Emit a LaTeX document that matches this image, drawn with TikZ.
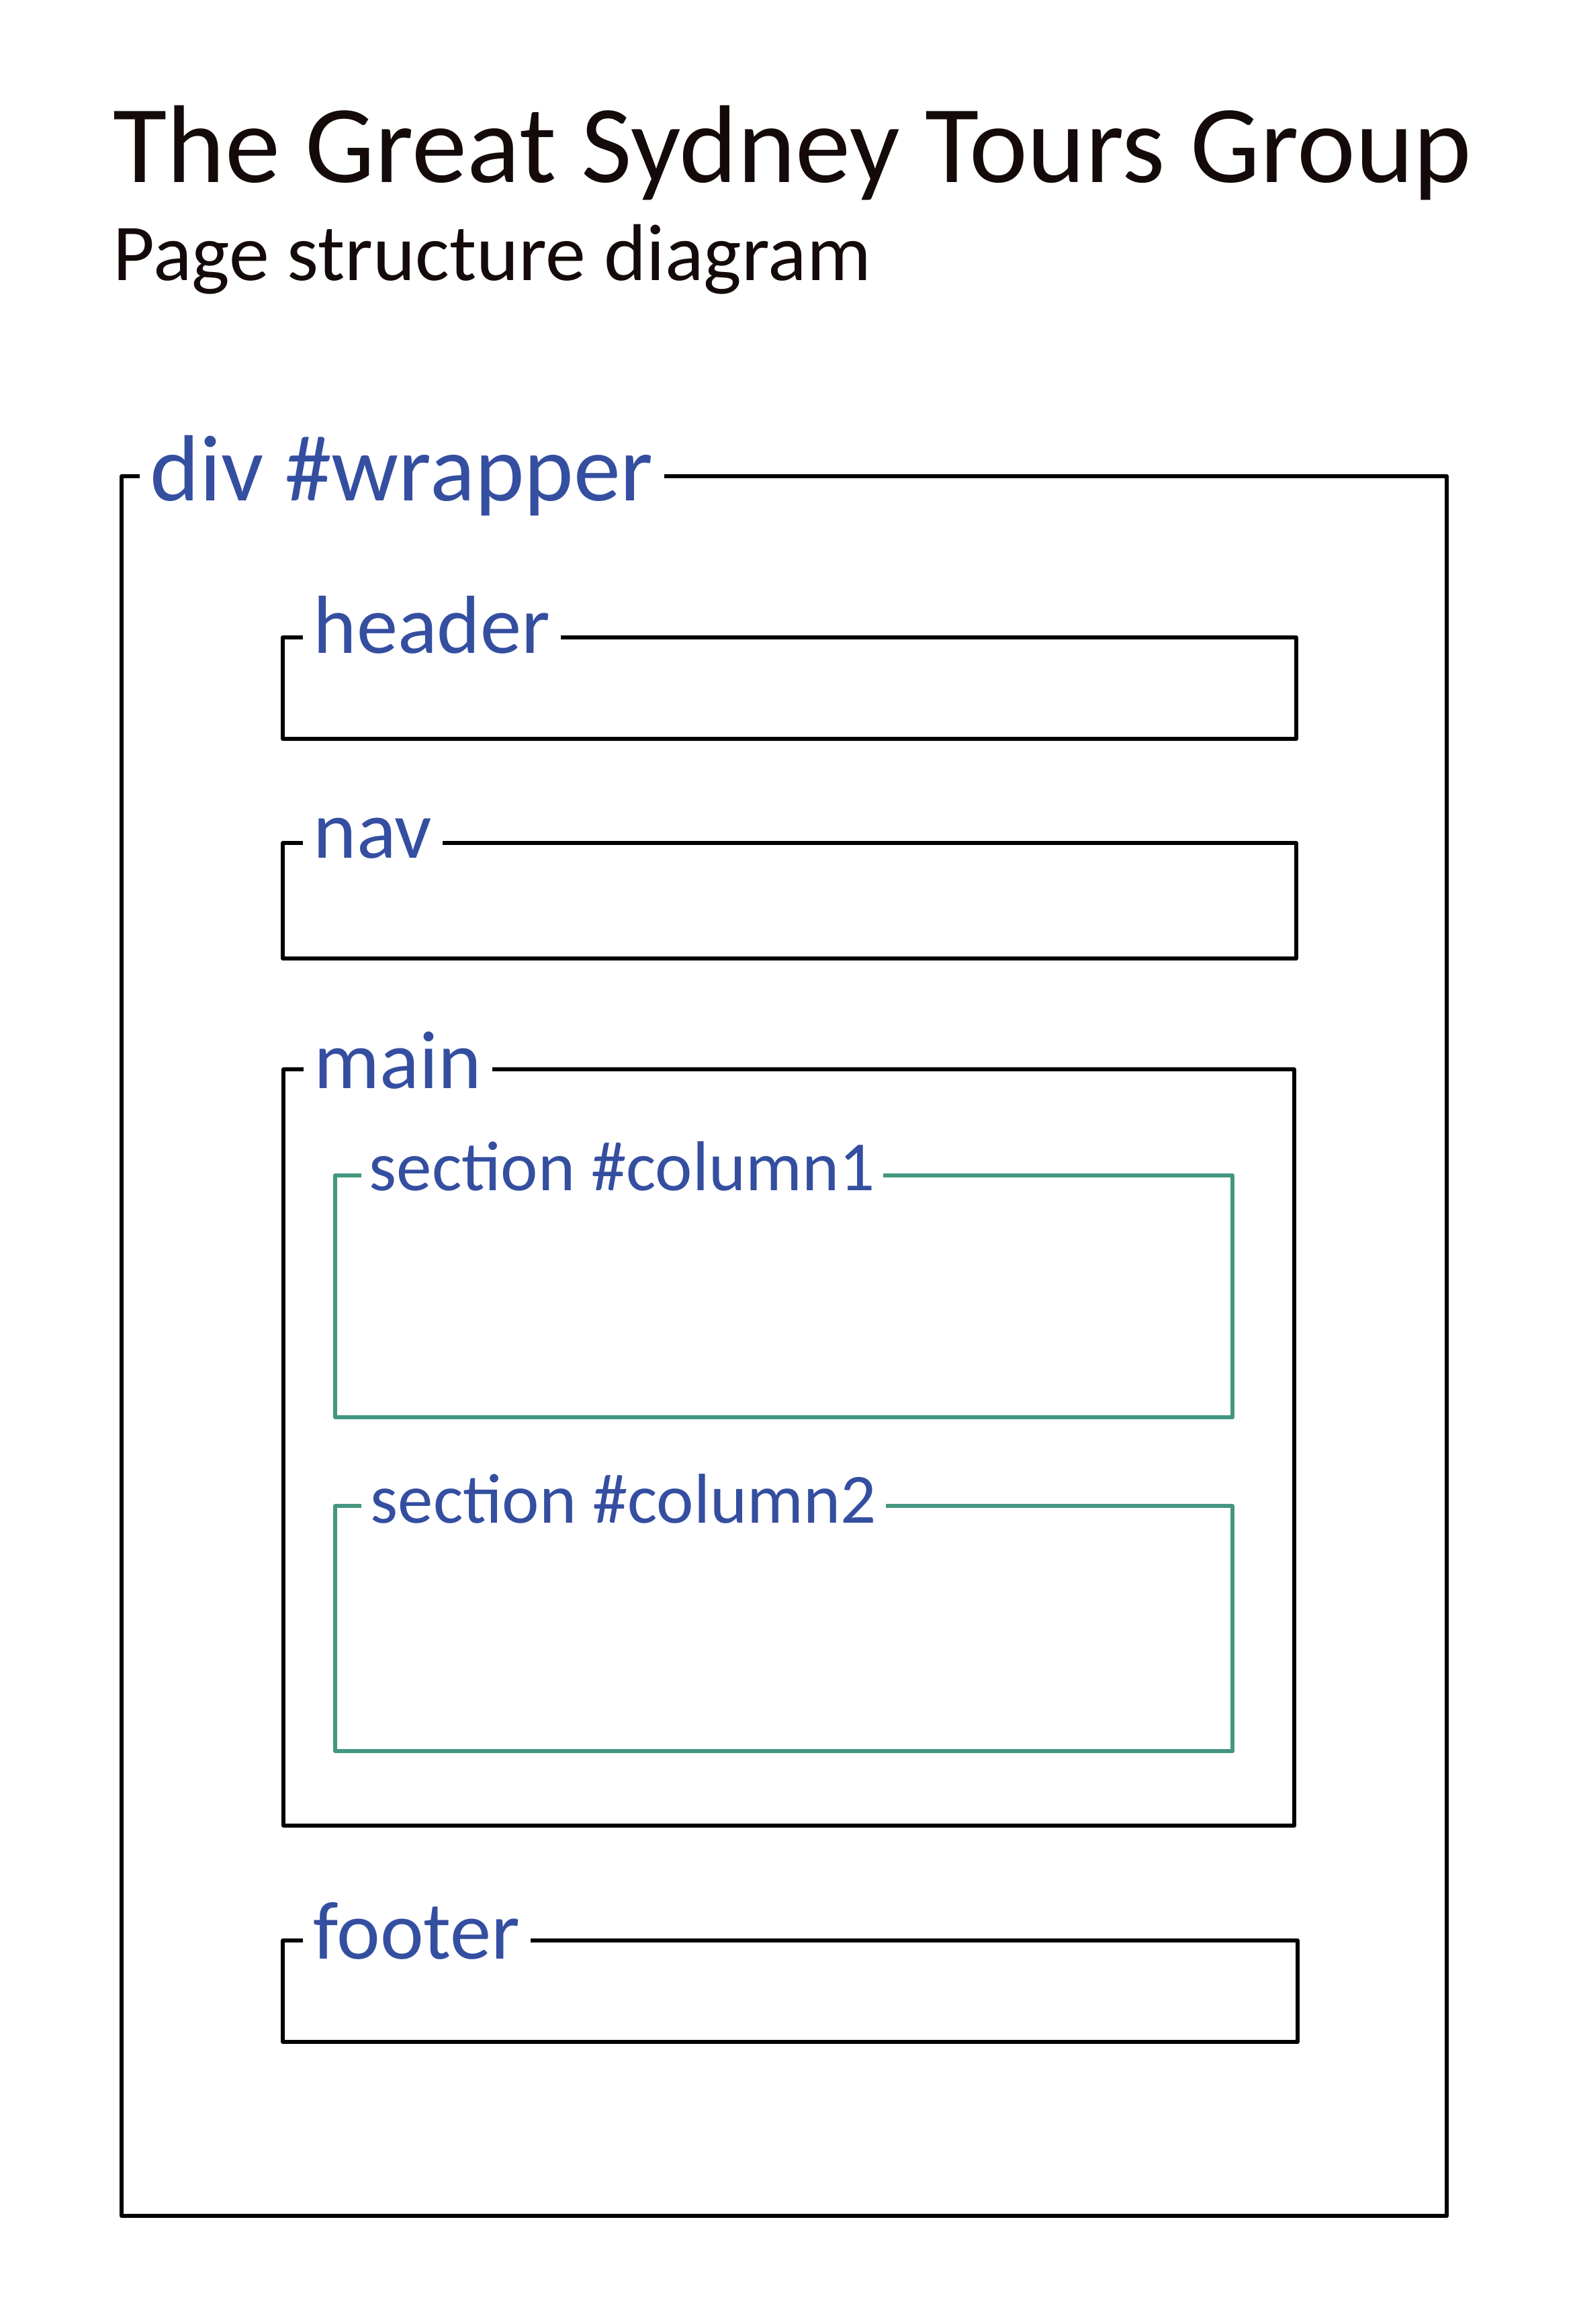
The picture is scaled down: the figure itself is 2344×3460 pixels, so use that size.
\documentclass[tikz,border=0pt]{standalone}
\usepackage{fontspec}
\setmainfont{Carlito}
\usepackage{tikz}
\definecolor{tagblue}{RGB}{52,78,160}
\definecolor{secgreen}{RGB}{68,150,128}
\definecolor{inkblack}{RGB}{20,10,10}

\begin{document}
\begin{tikzpicture}[x=0.3pt, y=-0.3pt,
  box/.style={draw=black, line width=1.6pt, line join=round},
  secbox/.style={draw=secgreen, line width=1.75pt, line join=round},
  tag/.style={anchor=base west, fill=white, text=tagblue, inner xsep=4.8pt, inner ysep=0pt},
  every node/.append style={font=\fontsize{36.8pt}{40pt}\selectfont}]
  \tikzstyle{heading} = [anchor=base west, inner sep=0pt, text=inkblack]
  \useasboundingbox (0,0) rectangle (2344,3460);
  % title
  \node (title) [heading, font=\fontsize{49.4pt}{53pt}\selectfont] at (168,272) {The Great Sydney Tours Group};
  \node (subtitle) [heading, font=\fontsize{36pt}{40pt}\selectfont] at (168,418) {Page structure diagram};
  % boxes
  \draw[box] (181,709) rectangle (2154,3299);
  \draw[box] (421,949) rectangle (1930,1100);
  \draw[box] (421,1255) rectangle (1930,1427);
  \draw[box] (422,1592) rectangle (1927,2718);
  \draw[secbox] (499,1750) rectangle (1835,2110);
  \draw[secbox] (499,2242) rectangle (1835,2607);
  \draw[box] (421,2889) rectangle (1932,3040);
  % labels
  \node (t_wrapper) [tag, font=\fontsize{42pt}{46pt}\selectfont] at (207,745) {div \#wrapper};
  \node (t_header) [tag] at (450,972) {header};
  \node (t_nav) [tag] at (450,1277) {nav};
  \node (t_main) [tag] at (451,1620) {main};
  \node (t_col1) [tag, inner xsep=3.6pt, font=\fontsize{31.5pt}{34pt}\selectfont] at (537,1772) {section \#column1};
  \node (t_col2) [tag, inner xsep=4.2pt, font=\fontsize{31.5pt}{34pt}\selectfont] at (537,2267) {section \#column2};
  \node (t_footer) [tag] at (450,2916) {footer};
\end{tikzpicture}
\end{document}
